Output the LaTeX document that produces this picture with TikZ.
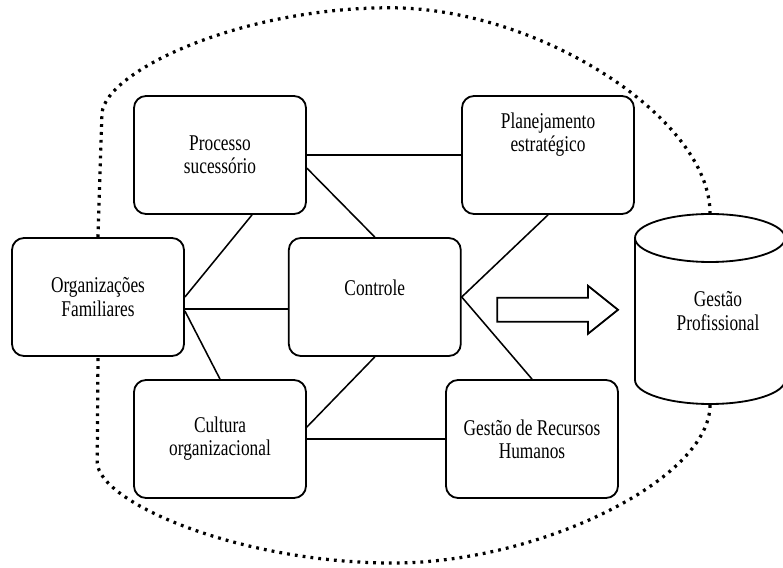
\documentclass[tikz,border=0pt]{standalone}
\usepackage{fontspec}
\setmainfont{Liberation Serif}[FakeStretch=0.77]
\tikzset{
  caixa/.style={draw, rounded corners=0.3cm, line width=1.3pt, minimum width=4.3cm, minimum height=2.95cm, align=center, inner sep=2pt},
  linha/.style={line width=1.1pt},
  borda/.style={line width=1.3pt},
  pontos/.style={line width=2.3pt, dash pattern=on 2pt off 3.6pt}
}

\begin{document}
\begin{tikzpicture}[font=\fontsize{16}{16.5}\selectfont]
        \useasboundingbox (0,0) rectangle (19.575,14.175);
        % caixas
        \node[caixa] (proc) at (5.5,10.3) {Processo\\sucessório};
        \node[caixa] (plan) at (13.7,10.3) {};
        \node[align=center] (plantxt) at ([yshift=5mm]plan.center) {Planejamento\\estratégico};
        \node[caixa] (org) at (2.45,6.75) {Organizações\\Familiares};
        \node[caixa] (ctrl) at (9.37,6.75) {};
        \node (ctrltxt) at ([yshift=2.4mm]ctrl.center) {Controle};
        \node[caixa] (cult) at (5.5,3.2) {Cultura\\organizacional};
        \node[caixa] (grh) at (13.3,3.2) {Gestão de Recursos\\Humanos};
        % cilindro
        \coordinate (gtop) at (17.75,8.85);
        \coordinate (gbot) at (17.75,4.05);
        \draw[borda] (15.875,8.225) -- (15.875,4.675) arc[start angle=180, end angle=360, x radius=1.875cm, y radius=0.6cm] -- (19.625,8.225);
        \draw[borda] (17.75,8.225) ellipse [x radius=1.875cm, y radius=0.6cm];
        \node[align=center] (gp) at (17.95,6.4) {Gestão\\Profissional};
        % seta
        \draw[borda] (12.43,6.13) -- (14.7,6.13) -- (14.7,5.83) -- (15.45,6.43) -- (14.7,7.03) -- (14.7,6.73) -- (12.43,6.73) -- cycle;
        % ligacoes
        \draw[linha] (org.east) -- ([xshift=0.8cm]proc.south)
          ([yshift=-0.3cm]org.east) -- ([yshift=-0.3cm]ctrl.west)
          ([yshift=-0.35cm]org.east) -- (cult.north)
          (proc.east) -- (plan.west)
          ([yshift=-0.33cm]proc.east) -- (ctrl.north)
          (plan.south) -- (ctrl.east) -- (grh.north)
          (ctrl.south) -- ([yshift=0.3cm]cult.east)
          (cult.east) -- (grh.west);
        % contorno pontilhado
        \draw[pontos] (org.north) -- (2.55,11.35) .. controls (2.65,12.4) and (6,13.98) .. (9.75,13.98) .. controls (13.5,13.98) and (17.75,11.2) .. (gtop);
        \draw[pontos] (gbot) .. controls (17.75,2.2) and (13.5,0.1) .. (9.825,0.1) .. controls (6,0.1) and (2.5,1.6) .. (2.43,2.6) -- (org.south);
      \end{tikzpicture}
\end{document}
